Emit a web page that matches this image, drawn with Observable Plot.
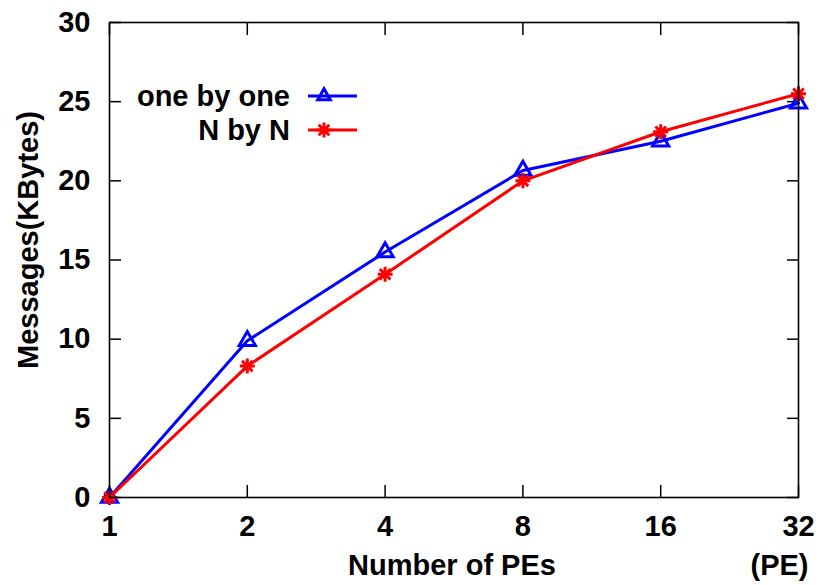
<!DOCTYPE html>
<html>
<head>
<meta charset="utf-8">
<script src="https://cdn.jsdelivr.net/npm/d3@7"></script>
<script src="https://cdn.jsdelivr.net/npm/@observablehq/plot@0.6"></script>
<style>
  body { margin: 0; background: #fff; }
  #chart svg { font-family: "Liberation Sans", Arial, Helvetica, sans-serif; font-weight: bold; }
</style>
</head>
<body>
<div id="chart"></div>
<script>
// Number of processing elements and message volume (KBytes) per scheme
const pes = [1, 2, 4, 8, 16, 32];
const oneByOne = [0, 9.9, 15.5, 20.65, 22.5, 24.9];
const nByN = [0, 8.3, 14.1, 20.0, 23.1, 25.5];
const seriesNames = ["one by one", "N by N"];
const seriesColors = ["#0000ff", "#ff0000"];
const yTicks = [0, 5, 10, 15, 20, 25, 30];
const xTitle = "Number of PEs";
const xUnit = "(PE)";
const yTitle = "Messages(KBytes)";

// eight-armed star marker (plus + cross)
const star = {
  draw(ctx, size) {
    const r = Math.sqrt(size / Math.PI);
    const d = r / Math.SQRT2;
    ctx.moveTo(-r, 0); ctx.lineTo(r, 0);
    ctx.moveTo(0, -r); ctx.lineTo(0, r);
    ctx.moveTo(-d, -d); ctx.lineTo(d, d);
    ctx.moveTo(-d, d); ctx.lineTo(d, -d);
  }
};
const symbols = ["triangle", star];

const rows = [];
pes.forEach((p, i) => {
  rows.push({pe: p, value: oneByOne[i], series: seriesNames[0]});
  rows.push({pe: p, value: nByN[i], series: seriesNames[1]});
});

const fs = 29;
const marks = [];
seriesNames.forEach((name, k) => {
  const data = rows.filter(d => d.series === name);
  marks.push(Plot.line(data, {x: "pe", y: "value", stroke: seriesColors[k], strokeWidth: 3}));
  marks.push(Plot.dot(data, {x: "pe", y: "value", stroke: seriesColors[k], strokeWidth: 3, symbol: () => symbols[k], r: k === 0 ? 6 : 7.5, fill: "none"}));
});

const chart = Plot.plot({
  width: 819,
  height: 585,
  marginLeft: 109,
  marginRight: 21,
  marginTop: 22,
  marginBottom: 88,
  style: {fontFamily: "'Liberation Sans', Arial, sans-serif", fontWeight: "bold", fontSize: fs + "px", background: "#fff", color: "#000"},
  x: {type: "log", base: 2, domain: [1, 32]},
  y: {domain: [0, 30]},
  symbol: {type: "identity"},
  marks: [
    Plot.axisX({anchor: "bottom", ticks: pes, tickSize: -12, tickPadding: 30, tickFormat: d => String(d), label: null, fontSize: fs, strokeWidth: 1.5}),
    Plot.axisX({anchor: "top", ticks: pes, tickSize: -12, tickFormat: () => "", label: null, strokeWidth: 1.5}),
    Plot.axisY({anchor: "left", ticks: yTicks, tickSize: -12, tickPadding: 31, tickFormat: d => String(d), label: null, fontSize: fs, strokeWidth: 1.5}),
    Plot.axisY({anchor: "right", ticks: yTicks, tickSize: -12, tickFormat: () => "", label: null, strokeWidth: 1.5}),
    ...marks,
    Plot.frame({stroke: "#000", strokeWidth: 1.6}),
    Plot.text([xTitle], {frameAnchor: "bottom", textAnchor: "middle", dx: -2, dy: 68, lineAnchor: "middle", fontSize: fs, fontWeight: "bold"}),
    Plot.text([xUnit], {frameAnchor: "bottom-right", textAnchor: "end", dx: 10, dy: 68, lineAnchor: "middle", fontSize: fs, fontWeight: "bold"}),
    Plot.text([yTitle], {frameAnchor: "left", textAnchor: "middle", rotate: -90, dx: -81, dy: -20, lineAnchor: "middle", fontSize: fs, fontWeight: "bold"})
  ]
});

// legend drawn inside the plot area, upper left
const svg = d3.select(chart);
const legend = svg.append("g");
seriesNames.forEach((name, k) => {
  const y = 96 + k * 34;
  legend.append("text")
    .attr("x", 290).attr("y", y).attr("dy", "0.35em")
    .attr("text-anchor", "end")
    .attr("font-size", fs).attr("font-weight", "bold")
    .attr("fill", "#000")
    .text(name);
  legend.append("line")
    .attr("x1", 308).attr("x2", 357).attr("y1", y).attr("y2", y)
    .attr("stroke", seriesColors[k]).attr("stroke-width", 3);
  const sym = k === 0 ? d3.symbolTriangle2 : star;
  const r = k === 0 ? 6 : 7.5;
  legend.append("path")
    .attr("transform", `translate(324,${y})`)
    .attr("d", d3.symbol(sym, r * r * Math.PI)())
    .attr("fill", "none").attr("stroke", seriesColors[k]).attr("stroke-width", 3);
});

document.getElementById("chart").append(chart);
</script>
</body>
</html>
